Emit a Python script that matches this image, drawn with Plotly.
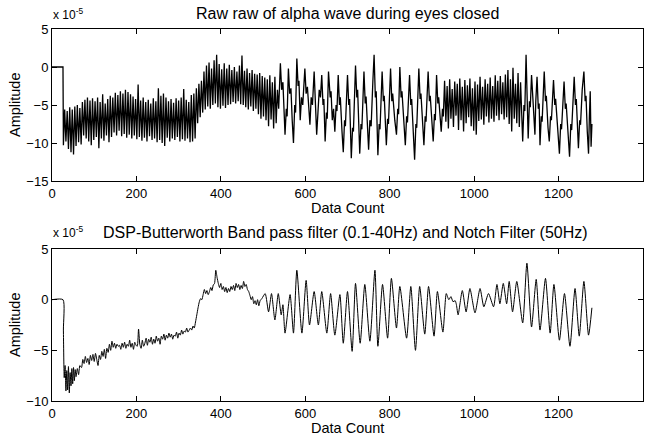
import plotly.graph_objects as go

# ---------------- DATA (amplitudes in units of 1e-5) ----------------
x_ticks = [0, 200, 400, 600, 800, 1000, 1200, 1400]
raw_yticks = [-15, -10, -5, 0, 5]
filt_yticks = [-10, -5, 0, 5]

raw_title = "Raw raw of alpha wave during eyes closed"
filt_title = "DSP-Butterworth Band pass filter (0.1-40Hz) and Notch Filter (50Hz)"

# raw signal: flat start
raw_head = [(0, 0.0), (26, 0.0)]
# raw signal: dense part sampled every 3 counts from count 27
raw_dense_start = 27
raw_dense_step = 3
raw_dense_y = [
    -10.3, -5.6, -9.8, -5.8, -10.8, -5.3, -11.2, -5.6, -11.5, -5.2, -10.4, -5.0, -9.9, -5.4, -10.2,
    -4.6, -9.0, -4.3, -9.4, -4.0, -9.8, -4.4, -10.3, -4.1, -9.6, -4.5, -9.2, -4.0,
    -10.7, -4.6, -9.4, -3.6, -9.7, -4.8, -9.0, -4.2, -9.9, -3.8,
    -9.2, -4.0, -8.6, -3.4, -9.0, -3.7, -8.4, -3.2, -9.1, -3.5,
    -8.8, -3.0, -9.3, -3.3, -8.9, -3.6, -9.4, -3.9, -9.0, -4.2, -9.5, -2.3, -9.2,
    -4.4, -9.7, -4.0, -9.3, -4.6, -9.8, -4.3, -9.1, -4.8, -9.6, -4.1, -9.4, -4.5, -9.9, -2.8,
    -9.6, -3.8, -10.0, -3.5, -10.4, -4.0,
    -9.3, -4.5, -9.8, -4.2, -9.4, -4.7, -9.6, -4.1, -9.2, -4.4, -9.8, -4.0, -9.5, -2.9, -9.7, -4.3, -9.4, -4.6, -9.9,
    -3.7, -9.8, -3.5, -9.4, -2.8,
    -7.4, -2.2, -6.6, -1.8, -6.0,
    -0.6, -5.6, 0.2, -5.2, 0.6, -5.5, -0.2, -5.0, 0.9, -4.8, 1.6,
    -5.3, 0.4, -5.5, -0.3, -5.1, 0.5, -5.4, -0.2, -5.0, 0.3,
    -4.9, -0.4, -4.6, 0.0, -4.8, -0.6, -4.5, 0.2, -4.9, 1.5,
    -5.0, -0.5, -5.3, -0.2, -5.6, -0.8, -5.2, -0.4, -5.8, -0.9, -5.5,
    -1.0, -6.2, -0.8, -6.8, -1.2, -6.5, -1.4, -7.0,
]
# raw signal: alpha-dominated tail (count, amplitude)
raw_tail = [
    (510, -1.6), (513, -7.8), (516, -1.1), (519, -6.9), (522, -2.0), (525, -8.1), (528, -1.3), (531, -7.4),
    (534, -3.0), (537, -5.5), (541, 0.5), (544, -3.0), (547, -2.0), (552, -8.9), (555, -5.5), (557, -6.5),
    (560, -0.2), (563, -3.5), (566, -2.8), (569, -7.0), (572, -10.0), (575, -5.0), (577, -6.0), (580, 1.1),
    (583, -2.5), (585, -1.8), (588, -7.0), (591, -4.0), (594, -5.0), (599, -0.2), (602, -3.5), (605, -2.6),
    (608, -6.0), (611, -7.6), (614, -4.0), (617, -5.0), (621, -0.6), (624, -4.5), (627, -8.9), (630, -6.0),
    (633, -3.0), (636, -4.0), (639, -1.05), (642, -5.0), (644, -4.2), (647, -9.8), (650, -6.0), (652, -6.8),
    (655, -0.6), (659, -4.0), (661, -3.2), (664, -7.0), (667, -5.5), (670, -8.5), (673, -5.0), (675, -5.8),
    (678, -1.05), (681, -5.0), (683, -4.0), (687, -8.5), (690, -11.2), (693, -7.0), (695, -7.8), (700, -1.05),
    (703, -5.0), (705, -4.2), (709, -12.0), (712, -8.0), (714, -8.5), (719, 0.2), (722, -4.0), (724, -3.0),
    (729, -11.4), (732, -7.5), (734, -8.2), (739, -0.6), (742, -4.8), (744, -3.9), (750, -10.9), (753, -7.0),
    (756, -7.8), (760, -2.0), (763, 1.6), (766, -4.0), (768, -3.2), (772, -11.6), (775, -7.5), (777, -8.2),
    (782, -0.6), (785, -4.5), (787, -3.8), (792, -10.3), (795, -6.8), (797, -7.5), (802, -0.2), (805, -4.5),
    (807, -3.5), (812, -7.0), (816, -8.9), (819, -5.5), (821, -6.2), (824, 0.0), (827, -4.0), (829, -3.2),
    (834, -8.0), (837, -10.3), (840, -6.5), (842, -7.3), (847, -1.05), (850, -5.0), (852, -4.2), (856, -9.0),
    (859, -12.2), (862, -7.5), (864, -8.0), (869, -0.2), (872, -4.2), (874, -3.5), (878, -8.0), (881, -10.3),
    (884, -6.5), (886, -7.2), (891, -0.6), (894, -4.5), (896, -3.8), (900, -7.5), (903, -9.8), (906, -6.2),
    (908, -7.0), (911, -1.05), (914, -4.8), (916, -4.0), (922, -8.5), (925, -5.5), (927, -6.5),
    (930, -1.8), (933, -7.2), (936, -2.5), (939, -8.1), (942, -1.6), (945, -6.8), (948, -2.9), (951, -7.9),
    (954, -1.9), (957, -6.4), (960, -2.2), (963, -8.3), (966, -1.5), (969, -7.0), (972, -2.6), (975, -8.5),
    (978, -1.7), (981, -7.4), (984, -2.4), (987, -6.6), (990, -1.5), (993, -7.8), (996, -2.8), (999, -8.4),
    (1002, -1.9), (1005, -8.9), (1008, -2.3), (1011, -7.1), (1014, -1.3), (1017, -6.9), (1020, -2.6), (1023, -7.6),
    (1026, -1.6), (1029, -6.5), (1032, -2.2), (1035, -7.3), (1038, -1.4), (1041, -6.8), (1044, -2.5), (1047, -7.2),
    (1050, -1.1), (1053, -6.4), (1056, -1.8), (1059, -7.0), (1062, -1.2), (1065, -6.2), (1068, -2.0), (1071, -6.9),
    (1074, -1.0), (1077, -6.6), (1080, -0.4), (1083, -7.5), (1086, -1.6), (1089, -8.5), (1092, -0.1), (1095, -6.8),
    (1098, -2.2), (1101, -7.4), (1104, -0.8), (1107, -7.9), (1110, -2.0),
    (1115, -9.8), (1118, -5.0), (1120, -5.8), (1123, 1.6), (1126, -4.0), (1128, -9.4), (1131, -4.5), (1133, -5.3),
    (1136, -1.05), (1140, -5.5), (1144, -8.9), (1146, -4.5), (1149, -1.3), (1152, -5.5), (1154, -4.8), (1156, -10.3),
    (1159, -6.5), (1161, -7.2), (1166, -0.6), (1169, -4.5), (1171, -3.8), (1175, -8.0), (1178, -9.8), (1181, -6.5),
    (1183, -7.0), (1188, -1.7), (1191, -5.0), (1193, -4.2), (1198, -8.5), (1202, -11.4), (1205, -7.5), (1207, -8.2),
    (1213, -1.9), (1216, -5.5), (1218, -4.8), (1222, -9.0), (1226, -11.8), (1229, -7.5), (1231, -8.3), (1237, -1.3),
    (1240, -5.0), (1242, -4.2), (1247, -10.7), (1250, -7.0), (1252, -7.6), (1256, -3.0), (1260, -0.6), (1263, -4.5),
    (1265, -3.8), (1268, -8.5), (1271, -11.4), (1273, -6.5), (1275, -3.2), (1277, -10.5), (1279, -7.5),
]

# filtered signal (count, amplitude)
filt = [
    (0, 0.0), (26, 0.0), (27, -3.0), (29, -7.7), (31, -6.5), (33, -9.0), (35, -7.0), (37, -8.9), (39, -6.6),
    (41, -9.2), (43, -7.2), (45, -8.5), (47, -6.8), (49, -8.3), (51, -6.7), (53, -8.0), (55, -6.9), (57, -7.6),
    (60, -6.8), (63, -7.4), (66, -6.5), (70, -6.7), (73, -5.9), (76, -6.3), (79, -5.6), (82, -6.2), (85, -5.8),
    (88, -6.4), (91, -5.5), (94, -6.0), (97, -5.4), (100, -6.1), (103, -5.3), (106, -5.9), (109, -6.5), (112, -5.5),
    (115, -5.9), (118, -5.1), (121, -5.6), (124, -4.9), (127, -5.8), (130, -4.8), (133, -5.2), (136, -4.4),
    (139, -5.0), (142, -4.1), (145, -4.7), (148, -4.3), (151, -4.8), (154, -4.4), (157, -4.6), (160, -4.5),
    (163, -4.9), (166, -4.3), (169, -4.7), (172, -4.2), (175, -4.8), (178, -4.4), (181, -4.6), (184, -4.0),
    (187, -4.7), (190, -4.3), (193, -4.9), (196, -4.2), (199, -4.5), (202, -4.6), (205, -2.9), (208, -4.4),
    (211, -4.8), (214, -4.0), (217, -4.6), (220, -4.3), (223, -3.8), (226, -4.5), (229, -3.9), (232, -4.2),
    (235, -3.7), (238, -4.4), (241, -3.9), (244, -4.3), (247, -3.6), (250, -4.1), (253, -3.8), (256, -4.4),
    (259, -3.6), (262, -3.9), (265, -3.4), (268, -4.0), (271, -3.5), (274, -3.8), (277, -3.3), (280, -3.7),
    (283, -3.4), (286, -3.9), (289, -3.5), (292, -3.6), (295, -3.2), (298, -3.8), (301, -3.3), (304, -3.5),
    (307, -3.0), (310, -3.4), (313, -3.1), (316, -3.2), (319, -2.8), (322, -3.2), (325, -3.0), (328, -2.8),
    (331, -3.0), (334, -2.6), (337, -2.8), (340, -2.2), (343, -1.5), (346, -0.8), (349, -0.2), (352, 0.1),
    (355, 0.0), (358, 0.5), (361, 1.0), (364, 0.6), (367, 0.9), (370, 0.5), (373, 0.8), (376, 1.2), (379, 0.9),
    (382, 1.45), (385, 1.6), (388, 2.9), (391, 2.2), (394, 1.6), (397, 1.2), (400, 1.6), (403, 1.0), (406, 1.3),
    (409, 0.8), (412, 1.2), (415, 0.7), (418, 1.1), (421, 0.8), (424, 1.3), (427, 1.0), (430, 1.4), (433, 0.9),
    (436, 1.6), (439, 1.2), (442, 1.5), (445, 1.0), (448, 1.4), (451, 1.1), (454, 1.8), (457, 1.3), (460, 1.5),
    (463, 1.0), (466, 0.8), (469, 0.4), (472, 0.0), (475, 0.3), (478, -0.4), (481, -0.1), (484, -0.5), (487, 0.0),
    (490, -0.6), (493, -0.1), (497, 0.1), (505, 0.6), (513, -1.2), (520, 0.6), (528, -2.0), (536, 0.6),
    (543, -1.5), (547, -0.5), (552, -3.3), (564, 0.5), (572, -3.3), (580, 2.9), (592, -3.3), (602, 1.9),
    (610, -2.5), (621, 0.8), (631, -2.5), (639, 0.8), (651, -3.3), (660, 0.6), (670, -3.5), (682, 0.5),
    (690, -4.3), (700, 0.8), (711, -5.1), (719, 1.6), (730, -4.3), (741, 1.5), (753, -4.1), (765, 2.9),
    (772, -4.6), (783, 1.5), (795, -3.8), (804, 2.1), (816, -2.8), (824, 1.3), (840, -3.8), (850, 1.3),
    (861, -5.0), (871, 1.3), (883, -3.4), (892, 1.3), (905, -3.6), (913, 0.8), (926, -3.2), (934, 0.6),
    (940, 0.0), (945, 0.3), (950, -0.2), (955, -0.1), (958, -0.5), (962, -1.5), (972, 0.9), (981, -1.2),
    (990, 1.1), (1002, -1.3), (1014, 1.1), (1023, -0.7), (1034, 0.6), (1046, -0.7), (1054, 1.5), (1061, -0.4),
    (1069, 1.6), (1077, -0.4), (1083, 1.8), (1091, -1.2), (1101, 1.8), (1115, -2.3), (1125, 3.6), (1136, -2.7),
    (1147, 2.0), (1156, -3.0), (1169, 2.1), (1180, -3.3), (1189, 1.5), (1202, -4.0), (1214, 0.6), (1227, -4.6),
    (1239, 1.1), (1249, -3.6), (1260, 1.8), (1271, -3.5), (1279, -0.8),
]

# ---------------- BUILD ----------------
raw_x = [p[0] for p in raw_head]
raw_y = [p[1] for p in raw_head]
raw_x += [raw_dense_start + raw_dense_step * i for i in range(len(raw_dense_y))]
raw_y += raw_dense_y
raw_x += [p[0] for p in raw_tail]
raw_y += [p[1] for p in raw_tail]

filt_x = [p[0] for p in filt]
filt_y = [p[1] for p in filt]

W, H = 657, 443
FONT = "Liberation Sans, Arial, sans-serif"

fig = go.Figure()
fig.add_trace(go.Scatter(x=raw_x, y=raw_y, mode="lines", line=dict(color="black", width=1.3),
                         xaxis="x", yaxis="y", showlegend=False, hoverinfo="skip"))
fig.add_trace(go.Scatter(x=filt_x, y=filt_y, mode="lines",
                         line=dict(color="black", width=1, shape="spline", smoothing=0.6),
                         xaxis="x2", yaxis="y2", showlegend=False, hoverinfo="skip"))

def px_x(p):
    return p / W

def px_y(p):
    return 1 - p / H

axis_common = dict(showline=True, linecolor="black", linewidth=1, mirror="ticks",
                   ticks="inside", ticklen=5, tickcolor="black", showgrid=False, zeroline=False,
                   automargin=False,
                   tickfont=dict(family=FONT, size=13, color="black"))

dom_x = [px_x(52), px_x(643)]
fig.update_layout(
    template="none",
    width=W, height=H, margin=dict(l=0, r=0, t=0, b=0, pad=0, autoexpand=False),
    paper_bgcolor="white", plot_bgcolor="white",
    xaxis=dict(domain=dom_x, range=[0, 1400], tickvals=x_ticks, anchor="y", **axis_common),
    yaxis=dict(domain=[px_y(181), px_y(29)], range=[-15, 5], tickvals=raw_yticks, anchor="x", **axis_common),
    xaxis2=dict(domain=dom_x, range=[0, 1400], tickvals=x_ticks, anchor="y2", **axis_common),
    yaxis2=dict(domain=[px_y(401), px_y(249)], range=[-10, 5], tickvals=filt_yticks, anchor="x2", **axis_common),
)

ann = []
def text(x, y, s, size, xanchor="center", **kw):
    ann.append(dict(x=px_x(x), y=px_y(y), xref="paper", yref="paper", text=s, showarrow=False,
                    xanchor=xanchor, yanchor="middle",
                    font=dict(family=FONT, size=size, color="black"), **kw))

text(347, 13, raw_title, 16)
text(345, 232, filt_title, 16)
text(347, 208, "Data Count", 14.5)
text(347, 428, "Data Count", 14.5)
text(15, 105, "Amplitude", 14.5, textangle=-90)
text(15, 325, "Amplitude", 14.5, textangle=-90)
text(51, 14, "x 10<sup>-5</sup>", 12, xanchor="left")
text(51, 232, "x 10<sup>-5</sup>", 12, xanchor="left")
fig.update_layout(annotations=ann)

# remove the page's default body margin so the figure fills the window
fig.write_html("out.html", config={"displayModeBar": False, "staticPlot": True},
               post_script="document.body.style.margin='0';")
